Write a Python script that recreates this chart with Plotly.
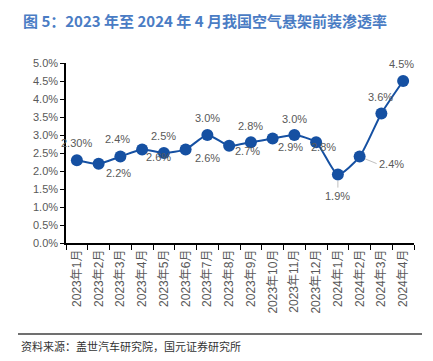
import plotly.graph_objects as go

months = ["2023年1月","2023年2月","2023年3月","2023年4月","2023年5月","2023年6月",
          "2023年7月","2023年8月","2023年9月","2023年10月","2023年11月","2023年12月",
          "2024年1月","2024年2月","2024年3月","2024年4月"]
penetration = [2.3, 2.2, 2.4, 2.6, 2.5, 2.6, 3.0, 2.7, 2.8, 2.9, 3.0, 2.8, 1.9, 2.4, 3.6, 4.5]
label_texts = ["2.30%","2.2%","2.4%","2.6%","2.5%","2.6%","3.0%","2.7%","2.8%","2.9%",
               "3.0%","2.8%","1.9%","2.4%","3.6%","4.5%"]

# label offsets in pixels (dx, dy up-positive)
label_offsets = [(0, 17), (20, -9), (-3, 18), (16, -8), (0, 17), (22, -9),
                 (0, 17), (18, -5), (0, 16), (18, -8), (0, 16), (7, -5),
                 (0, -19), (30, -8), (-1, 16), (-2, 17)]

BLUE = "#1550a2"
GREY = "#595959"
FONT = "Liberation Sans, Arial, Noto Sans CJK SC, sans-serif"

OFF = 8  # page body margin
L, T, R, B = 66 - OFF, 63 - OFF, 414 - OFF, 243 - OFF
W, H = 433 - OFF, 361 - OFF
PW, PH = R - L, B - T

def px_x(p):
    return (p - OFF - L) / PW
def px_y(p):
    return (B - (p - OFF)) / PH

fig = go.Figure()
fig.add_trace(go.Scatter(
    x=months, y=penetration, mode="lines+markers",
    line=dict(color=BLUE, width=2, shape="spline", smoothing=0.6),
    marker=dict(color=BLUE, size=12),
    hoverinfo="skip", showlegend=False, cliponaxis=False))

for i, (m, v, t) in enumerate(zip(months, penetration, label_texts)):
    dx, dy = label_offsets[i]
    if i == 12:
        fig.add_annotation(x=m, y=v, text=t, showarrow=True, ax=0, ay=13,
                           arrowhead=0, arrowwidth=1, arrowcolor="#bfbfbf", standoff=6,
                           font=dict(size=11, color=GREY, family=FONT), yanchor="top")
    elif i == 13:
        fig.add_annotation(x=m, y=v, text=t, showarrow=True, ax=17, ay=7,
                           arrowhead=0, arrowwidth=1, arrowcolor="#bfbfbf", standoff=6,
                           font=dict(size=11, color=GREY, family=FONT), xanchor="left")
    else:
        fig.add_annotation(x=m, y=v, text=t, showarrow=False, xshift=dx, yshift=dy,
                           font=dict(size=11, color=GREY, family=FONT))

# Title
fig.add_annotation(xref="paper", yref="paper", x=px_x(21), y=px_y(8),
                   xanchor="left", yanchor="top", showarrow=False,
                   text="<b>图 5：2023 年至 2024 年 4 月我国空气悬架前装渗透率</b>",
                   font=dict(size=15, color="#4a7cc4", family="Noto Sans CJK SC"))
# Source
fig.add_annotation(xref="paper", yref="paper", x=px_x(19), y=px_y(346),
                   xanchor="left", yanchor="middle", showarrow=False,
                   text="资料来源：盖世汽车研究院，国元证券研究所",
                   font=dict(size=11, color="#333333", family="Noto Sans CJK SC"))
fig.add_shape(type="line", xref="paper", yref="paper", x0=px_x(18), x1=px_x(422),
              y0=px_y(334), y1=px_y(334), line=dict(color="#404040", width=1.5))

fig.update_layout(
    width=W, height=H,
    margin=dict(l=L, r=W - R, t=T, b=H - B),
    paper_bgcolor="white", plot_bgcolor="white",
    font=dict(family=FONT, color=GREY),
    xaxis=dict(type="category", range=[-0.5, 15.5], showline=True, linecolor="black",
               linewidth=1.5, ticks="outside", tickson="boundaries", ticklen=5,
               tickcolor="black", tickangle=-90, tickfont=dict(size=12, color=GREY),
               showgrid=False, zeroline=False, automargin=False),
    yaxis=dict(range=[0, 5], dtick=0.5, tickformat=".1f", ticksuffix="%",
               showline=True, linecolor="black", linewidth=1.5, ticks="outside",
               ticklen=4, tickcolor="black", tickfont=dict(size=11, color=GREY),
               showgrid=False, zeroline=False, automargin=False),
)

fig.write_html("out.html")
